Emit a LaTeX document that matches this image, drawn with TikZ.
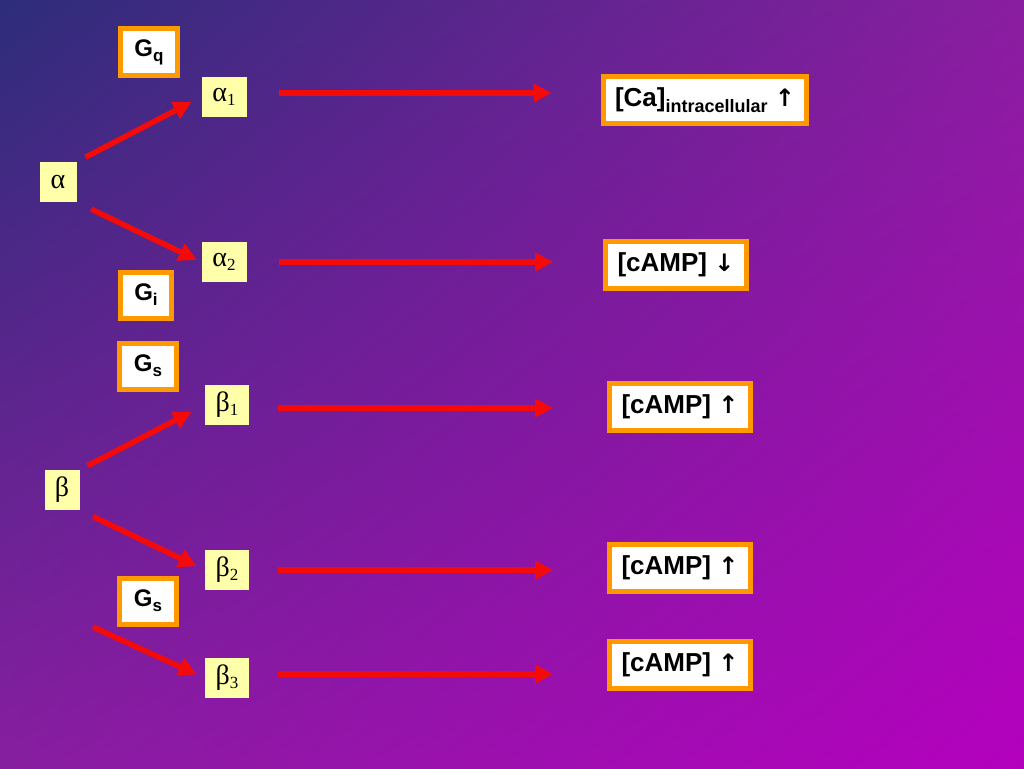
\documentclass[tikz,border=0pt]{standalone}
\usepackage{fontspec}
\setmainfont{Liberation Sans}
\newfontfamily\greekfont{Liberation Serif}
\newfontfamily\arrowfont{DejaVu Sans}
\usetikzlibrary{arrows.meta,shadings}
\definecolor{bgtl}{RGB}{45,45,122}
\definecolor{bgtr}{RGB}{138,30,160}
\definecolor{bgbl}{RGB}{135,30,160}
\definecolor{bgbr}{RGB}{180,0,190}
\definecolor{recfill}{RGB}{255,255,170}
\definecolor{gorange}{RGB}{255,153,0}
\definecolor{sigred}{RGB}{245,10,10}
\newcommand\lowsub[3]{\raisebox{-#1}{\fontsize{#2}{#2}\selectfont#3}}
\newcommand\up{{\arrowfont\bfseries\fontsize{24}{24}\selectfont ↑}}
\newcommand\down{{\arrowfont\bfseries\fontsize{24}{24}\selectfont ↓}}
\tikzset{
  rec/.style={fill=recfill, inner sep=0pt, minimum height=40pt,
    font=\greekfont\fontsize{28}{28}\selectfont},
  gbox/.style={draw=gorange, line width=5pt, fill=white, inner xsep=14pt,
    minimum height=46pt, font=\bfseries\fontsize{24}{24}\selectfont},
  effect/.style={draw=gorange, line width=5pt, fill=white, inner xsep=12pt,
    minimum height=47pt, font=\bfseries\fontsize{26}{26}\selectfont},
  sig/.style={draw=sigred, line width=5.5pt, -{Triangle[length=18pt,width=18pt]}}
}
\begin{document}
\begin{tikzpicture}[x=1pt,y=-1pt]
      \shade[upper left=bgtl, upper right=bgtr, lower left=bgbl, lower right=bgbr]
        (0,0) rectangle (1024,768);
      \useasboundingbox (0,0) rectangle (1024,768);
      % receptors
      \node[rec, minimum width=37pt] (a) at (58,182) {α};
      \node[rec, minimum width=45pt] (a1) at (224,97) {α\lowsub{4pt}{17}{1}};
      \node[rec, minimum width=45pt] (a2) at (224,262) {α\lowsub{4pt}{17}{2}};
      \node[rec, minimum width=35pt] (b) at (62,490) {β};
      \node[rec, minimum width=44pt] (b1) at (227,405) {β\lowsub{4pt}{17}{1}};
      \node[rec, minimum width=44pt] (b2) at (227,570) {β\lowsub{4pt}{17}{2}};
      \node[rec, minimum width=44pt] (b3) at (227,678) {β\lowsub{4pt}{17}{3}};
      % G proteins
      \node[gbox] (gq) at (149,52) {G\lowsub{5pt}{17}{q}};
      \node[gbox] (gi) at (146,295) {G\lowsub{5pt}{17}{i}};
      \node[gbox] (gs1) at (148,366) {G\lowsub{5pt}{17}{s}};
      \node[gbox] (gs2) at (148,601) {G\lowsub{5pt}{17}{s}};
      % effects
      \node[effect] (r1) at (705,100) {[Ca]\lowsub{6pt}{18}{intracellular} \up};
      \node[effect] (r2) at (676,265) {[cAMP] \down};
      \node[effect] (r3) at (680,407) {[cAMP] \up};
      \node[effect] (r4) at (680,568) {[cAMP] \up};
      \node[effect] (r5) at (680,665) {[cAMP] \up};
      \coordinate (b3in) at (93,627);
      \begin{scope}[sig]
        \draw[shorten <=10pt, shorten >=11pt] (a.north east) to (a1.west);
        \draw[shorten <=16pt, shorten >=5pt] (a.south east) to (a2.west);
        \draw[shorten <=9pt, shorten >=15pt] (b.north east) to (b1.west);
        \draw[shorten <=15pt, shorten >=9pt] (b.south east) to (b2.west);
        \draw[shorten >=9pt] (b3in) to (b3.west);
        \draw[shorten <=32pt, shorten >=49pt] ([yshift=4pt]a1.east) to ([yshift=4pt]a1.east -| r1.west);
        \draw[shorten <=32pt, shorten >=50pt] (a2.east) to (a2.east -| r2.west);
        \draw[shorten <=29pt, shorten >=54pt] ([yshift=-3pt]b1.east) to ([yshift=-3pt]b1.east -| r3.west);
        \draw[shorten <=29pt, shorten >=54pt] (b2.east) to (b2.east -| r4.west);
        \draw[shorten <=29pt, shorten >=54pt] ([yshift=4pt]b3.east) to ([yshift=4pt]b3.east -| r5.west);
      \end{scope}
    \end{tikzpicture}
\end{document}
